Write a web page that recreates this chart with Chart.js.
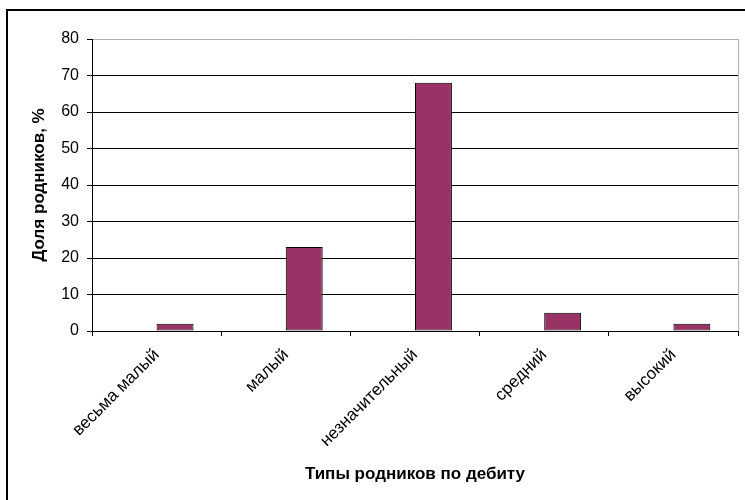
<!DOCTYPE html>
<html>
<head>
<meta charset="utf-8">
<script src="https://cdn.jsdelivr.net/npm/chart.js@4"></script>
<style>
    body { margin: 0; background: #fff; }
    #marco { position: absolute; left: 6px; top: 9px; width: 800px; height: 600px; border: 2px solid #000; }
    #grafico { position: absolute; left: 0; top: 0; }
</style>
</head>
<body>
<div id="marco"></div>
<canvas id="grafico" width="745" height="500"></canvas>
<script>
var tipos = ['весьма малый', 'малый', 'незначительный', 'средний', 'высокий'];
var vacio = [null, null, null, null, null];
var dolaRodnikov = [2, 23, 68, 5, 2];
var ticksY = [0, 10, 20, 30, 40, 50, 60, 70, 80];

var fuente = 'Arial, "Liberation Sans", sans-serif';

var ctx = document.getElementById('grafico');
new Chart(ctx, {
    type: 'bar',
    data: {
        labels: tipos,
        datasets: [{
            label: '',
            data: vacio,
            backgroundColor: '#993366'
        }, {
            label: 'Доля родников',
            data: dolaRodnikov,
            backgroundColor: '#993366',
            borderColor: '#000000',
            borderWidth: 1,
            borderSkipped: false
        }]
    },
    options: {
        responsive: false,
        animation: false,
        categoryPercentage: 2 / 3.5,
        barPercentage: 1,
        layout: {
            padding: {left: 0, top: 39, right: 7, bottom: 0}
        },
        plugins: {
            legend: {display: false},
            tooltip: {enabled: false}
        },
        scales: {
            x: {
                afterFit: function (scale) { scale.height = 169; },
                grid: {
                    offset: true,
                    color: function (c) { return c.type === 'tick' ? 'rgba(0,0,0,0)' : '#b0b0b0'; },
                    tickColor: '#000000',
                    tickLength: 5,
                    lineWidth: 1
                },
                border: {color: '#000000', width: 1},
                ticks: {
                    minRotation: 45,
                    maxRotation: 45,
                    color: '#000000',
                    padding: 9,
                    font: {family: fuente, size: 17}
                },
                title: {
                    display: true,
                    text: 'Типы родников по дебиту',
                    color: '#000000',
                    padding: {top: 0, bottom: 15},
                    font: {family: fuente, size: 17, weight: 'bold'}
                }
            },
            y: {
                min: 0,
                max: 80,
                afterFit: function (scale) { scale.width = 92; },
                afterBuildTicks: function (scale) {
                    scale.ticks = ticksY.map(function (v) { return {value: v}; });
                },
                grid: {
                    color: function (c) { return c.tick && c.tick.value === 80 ? '#b0b0b0' : '#000000'; },
                    tickColor: '#000000',
                    tickLength: 5,
                    lineWidth: 1
                },
                border: {color: '#000000', width: 1},
                ticks: {
                    color: '#000000',
                    padding: 8,
                    font: {family: fuente, size: 16}
                },
                title: {
                    display: true,
                    text: 'Доля родников, %',
                    color: '#000000',
                    padding: {top: 29, bottom: 0},
                    font: {family: fuente, size: 17, weight: 'bold'}
                }
            }
        }
    }
});
</script>
</body>
</html>
